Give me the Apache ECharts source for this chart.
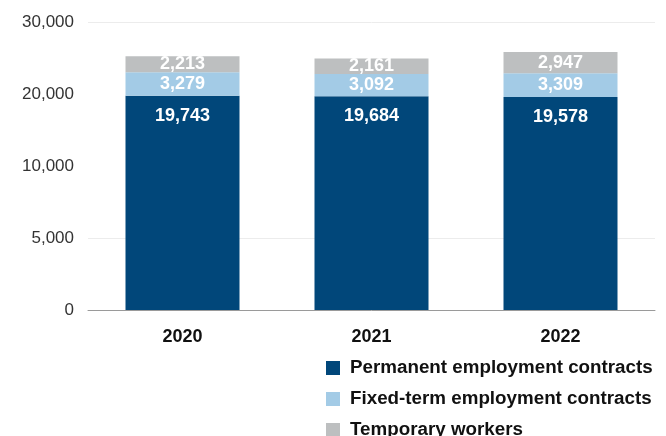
<!DOCTYPE html>
<html>
<head>
<meta charset="utf-8">
<script src="https://cdn.jsdelivr.net/npm/echarts@6/dist/echarts.min.js"></script>
<style>
  html, body { margin: 0; padding: 0; background: #ffffff; }
  #chart { width: 666px; height: 436px; }
</style>
</head>
<body>
<div id="chart"></div>
<script>
// Workforce by contract type, 2020–2022
const years = ['2020', '2021', '2022'];
const permanent = [19743, 19684, 19578];
const fixedTerm = [3279, 3092, 3309];
const temporary = [2213, 2161, 2947];
const seriesNames = [
  'Permanent employment contracts',
  'Fixed-term employment contracts',
  'Temporary workers'
];

const FONT = '"Liberation Sans", Arial, Helvetica, sans-serif';
const fmt = v => Number(v).toLocaleString('en-US');

const chart = echarts.init(document.getElementById('chart'), null, { renderer: 'canvas' });

function valueLabel(position, distance) {
  return {
    show: true,
    position: position,
    distance: distance,
    color: '#ffffff',
    fontFamily: FONT,
    fontWeight: 'bold',
    fontSize: 18,
    formatter: p => fmt(p.value)
  };
}

chart.setOption({
  animation: false,
  color: ['#01477a', '#a3cbe6', '#bdbfc0'],
  grid: { left: 88, right: 11, top: 22, bottom: 126, containLabel: false },
  xAxis: {
    type: 'category',
    data: years,
    axisTick: { show: false },
    axisLine: { lineStyle: { color: '#9a9a9a', width: 1 } },
    axisLabel: {
      margin: 18,
      color: '#111111',
      fontFamily: FONT,
      fontWeight: 'bold',
      fontSize: 18
    }
  },
  yAxis: {
    type: 'value',
    min: 0,
    max: 30000,
    interval: 5000,
    // above 10,000 the scale runs at half the density of the lower range;
    // the second break starts a hair past 20,000 so that tick is labelled once
    breaks: [
      { start: 10000, end: 20000, gap: 5000 },
      { start: 20000.5, end: 30000, gap: 5000 }
    ],
    breakArea: { show: false },
    axisLine: { show: false },
    axisTick: { show: false },
    splitLine: { lineStyle: { color: '#ececec', width: 1 } },
    axisLabel: {
      margin: 14,
      color: '#333333',
      fontFamily: FONT,
      fontSize: 17,
      formatter: v => (Number.isInteger(v) ? fmt(v) : '')
    }
  },
  legend: {
    orient: 'vertical',
    left: 326,
    top: 358.5,
    width: 340,
    height: 90,
    padding: 0,
    icon: 'rect',
    itemWidth: 14,
    itemHeight: 14,
    itemGap: 12,
    selectedMode: false,
    data: seriesNames,
    textStyle: {
      color: '#111111',
      fontFamily: FONT,
      fontWeight: 'bold',
      fontSize: 18.8,
      lineHeight: 18,
      padding: [0, 0, 0, 5]
    }
  },
  series: [
    {
      name: seriesNames[0], type: 'bar', stack: 'total',
      barWidth: 114, data: permanent,
      label: valueLabel('insideTop', 11)
    },
    {
      name: seriesNames[1], type: 'bar', stack: 'total',
      barWidth: 114, data: fixedTerm,
      label: valueLabel('inside', 0)
    },
    {
      name: seriesNames[2], type: 'bar', stack: 'total',
      barWidth: 114, data: temporary,
      label: valueLabel('inside', 0)
    }
  ]
});
</script>
</body>
</html>
